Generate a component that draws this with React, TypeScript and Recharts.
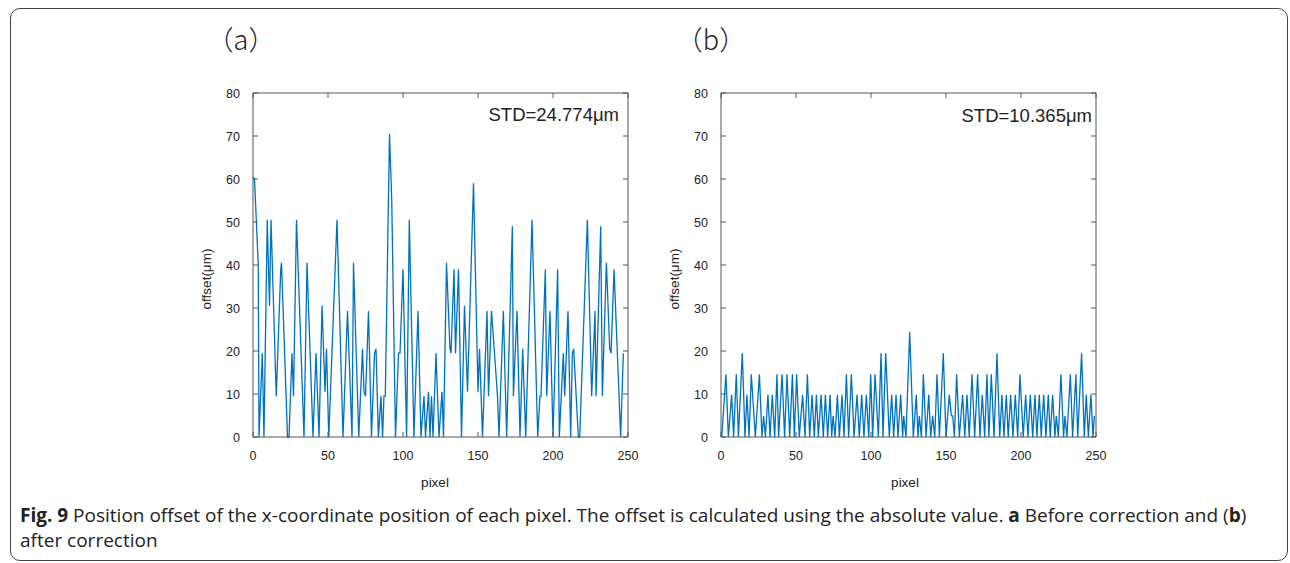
import { LineChart, Line, XAxis, YAxis, ReferenceLine } from 'recharts'

const pixelTicks = [0, 50, 100, 150, 200, 250]
const offsetTicks = [0, 10, 20, 30, 40, 50, 60, 70, 80]

// (a) before correction: turning points
const pixelA = [
  0, 1, 3.5, 4, 6.2, 7.3, 9.5, 11, 12, 15.5, 18.5, 19, 23, 24, 26, 27, 29, 34, 36, 40,
  42, 44, 46, 48, 49, 50.5, 56, 60, 63, 66, 67, 70.5, 73, 74, 75, 77, 79, 81, 82, 83.6,
  85.3, 86.4, 87.3, 88.2, 91, 92.5, 95, 97, 98, 100, 102.4, 104.2, 107.3, 110, 112, 114, 115, 117, 118, 119,
  120, 122, 124, 126, 127, 129, 131.3, 132, 134, 135, 137, 139, 141, 143, 147, 150, 151, 153, 156, 157,
  159, 163, 164, 166.9, 169.1, 172.9, 173.6, 176, 178, 179.8, 181.8, 186, 189.8, 191.3, 192, 194.9, 195.8, 198, 200, 203.1,
  204.2, 206.9, 207.8, 210, 211.8, 212.9, 213.8, 216.9, 217.8, 222.9, 225.8, 228, 228.7, 231.8, 232.9, 235.6, 237.8, 238.7, 240.7, 245.1,
  246.9,
]
const offsetA = [
  60.5, 60, 40, 0, 19.5, 0, 50.5, 30.5, 50.5, 9.5, 39, 40.5, 0, 0, 19.5, 9.5, 50.5, 0, 40.5, 0,
  19.5, 0, 30.5, 10.5, 20.5, 0, 50.5, 0, 29.3, 0, 40.5, 0, 20.5, 10.5, 9.5, 29.3, 0, 19.5, 20.5, 0,
  9.5, 0, 9.5, 9.5, 70.5, 55, 0, 19.5, 19.5, 39, 0, 50.5, 0, 29.3, 0, 9.5, 0, 10.5, 0, 9.5,
  0, 19.5, 0, 10.5, 0, 40.5, 20.5, 19.5, 39, 19.5, 39, 0, 30.5, 10.5, 59, 10.5, 20.5, 0, 29.3, 9.5,
  29.3, 9.5, 0, 29.3, 0, 49, 9.5, 29.3, 0, 20.5, 0, 50.5, 0, 9.5, 9.5, 39, 9.5, 29.3, 0, 39,
  0, 19.5, 9.5, 29.3, 0, 19.5, 20.5, 0, 0, 50.5, 9.5, 29.3, 9.5, 49, 9.5, 40.5, 20.5, 19.5, 39, 0,
  19.5,
]

// (b) after correction
const pixelB = [
  0.5, 3.3, 4.9, 7.1, 8.4, 10.2, 11.6, 14.2, 16, 17.3, 18.7, 20.2, 22.9, 25.6, 27.3, 28.4, 29.6, 31.3, 32.7, 34.2,
  35.8, 37.3, 38.4, 40.7, 42.4, 44, 45.8, 47.6, 48.9, 50.4, 52.2, 54.4, 56, 57.6, 59.1, 60.7, 62.2, 63.6, 64.9, 66.7,
  68.2, 69.6, 71.1, 72.7, 73.8, 74.7, 76, 77.6, 78.9, 80.7, 82, 83.6, 85.1, 86.9, 88.7, 90.7, 92.2, 93.8, 95.3, 96.9,
  98.5, 99.8, 101.1, 102.7, 104.9, 106.7, 108, 109.8, 112.2, 113.8, 115.1, 116.7, 118, 119.8, 121.1, 121.8, 123.3, 125.8, 128.2, 130.2,
  131.3, 132.2, 133.6, 134.9, 136.7, 138.5, 139.8, 141.1, 142.5, 144, 145.6, 148.2, 150, 152.2, 153.6, 154.5, 155.6, 157.1, 158.9, 161.1,
  162.5, 164, 165.5, 167.3, 169.1, 171.1, 172.6, 174.2, 175.8, 177.3, 178.6, 180.2, 182, 184, 185.8, 187.3, 188.6, 190.2, 191.5, 193.1,
  194.6, 196.2, 197.8, 199.3, 201.5, 203.1, 204.6, 206.2, 207.8, 209.3, 210.6, 212.2, 213.5, 215.1, 216.6, 218.2, 219.5, 221.1, 222.6, 223.5,
  224.9, 226.6, 228.4, 229.3, 230.6, 232.9, 234.4, 236.6, 237.8, 240.4, 242.2, 243.5, 244.9, 246.6, 248, 248.9,
]
const offsetB = [
  0, 14.6, 0, 9.8, 0, 14.6, 0, 19.5, 0, 9.8, 0, 14.6, 0, 14.6, 0, 4.9, 0, 9.8, 0, 9.8,
  0, 14.6, 0, 14.6, 0, 14.6, 0, 14.6, 0, 14.6, 0, 9.8, 0, 14.6, 0, 9.8, 0, 9.8, 0, 9.8,
  0, 9.8, 0, 9.8, 0, 4.9, 0, 9.8, 0, 9.8, 0, 14.6, 0, 14.6, 0, 9.8, 0, 9.8, 0, 9.8,
  0, 14.6, 0, 14.6, 0, 19.5, 0, 19.5, 0, 9.8, 0, 9.8, 0, 9.8, 0, 4.9, 0, 24.4, 0, 9.8,
  0, 4.9, 0, 14.6, 0, 9.8, 0, 4.9, 0, 14.6, 0, 19.5, 0, 9.8, 4.9, 4.9, 0, 14.6, 0, 9.8,
  0, 9.8, 0, 14.6, 0, 14.6, 0, 9.8, 0, 14.6, 0, 14.6, 0, 19.5, 0, 9.8, 0, 9.8, 0, 9.8,
  0, 9.8, 0, 14.6, 0, 9.8, 0, 9.8, 0, 9.8, 0, 9.8, 0, 9.8, 0, 9.8, 0, 9.8, 0, 4.9,
  0, 14.6, 0, 4.9, 0, 14.6, 0, 14.6, 0, 19.5, 0, 9.8, 0, 9.8, 0, 4.9,
]

const toRows = (xs: number[], ys: number[]) => xs.map((p, i) => ({ pixel: p, offset: ys[i] }))

const axisColor = '#555'
const tickColor = '#222'
const tickFontFamily = 'Liberation Sans, Arial, sans-serif'

// chart box, in chart coordinates
const W = 470
const H = 430
const M = { top: 13, right: 22, bottom: 23, left: 0 }
const X_AXIS_H = 50
const Y_AXIS_W = 73
const plotTop = M.top
const plotBottom = H - M.bottom - X_AXIS_H
const plotLeft = M.left + Y_AXIS_W
const plotRight = W - M.right
const TICK = 5
const X_MARGIN = 14
const Y_MARGIN = 13

// MATLAB-style inward ticks on both sides of the box
function BottomTick(props: any) {
  const { x, y, payload } = props
  return (
    <g>
      <line x1={x} x2={x} y1={plotBottom} y2={plotBottom - TICK} stroke={axisColor} />
      <line x1={x} x2={x} y1={plotTop} y2={plotTop + TICK} stroke={axisColor} />
      <text x={x} y={y + 9} textAnchor="middle" fill={tickColor} fontSize={12.5} fontFamily={tickFontFamily}>
        {payload.value}
      </text>
    </g>
  )
}

function LeftTick(props: any) {
  const { y, payload } = props
  return (
    <g>
      <line x1={plotLeft} x2={plotLeft + TICK} y1={y} y2={y} stroke={axisColor} />
      <line x1={plotRight} x2={plotRight - TICK} y1={y} y2={y} stroke={axisColor} />
      <text x={plotLeft - Y_MARGIN} y={y + 4.5} textAnchor="end" fill={tickColor} fontSize={12.5} fontFamily={tickFontFamily}>
        {payload.value}
      </text>
    </g>
  )
}

function Panel({ left, rows }: { left: number; rows: { pixel: number; offset: number }[] }) {
  return (
    <div style={{ position: 'absolute', left, top: 80 }}>
      <LineChart width={W} height={H} data={rows} margin={M}>
        <XAxis
          dataKey="pixel"
          type="number"
          domain={[0, 250]}
          ticks={pixelTicks}
          tickLine={false}
          tickSize={0}
          tickMargin={X_MARGIN}
          height={X_AXIS_H}
          stroke={axisColor}
          tick={BottomTick}
        />
        <YAxis
          type="number"
          domain={[0, 80]}
          ticks={offsetTicks}
          tickLine={false}
          tickSize={0}
          width={Y_AXIS_W}
          stroke={axisColor}
          tick={LeftTick}
        />
        <ReferenceLine y={80} stroke={axisColor} />
        <ReferenceLine x={250} stroke={axisColor} />
        <Line
          type="linear"
          dataKey="offset"
          stroke="#0072BD"
          strokeWidth={1.3}
          dot={false}
          isAnimationActive={false}
        />
      </LineChart>
    </div>
  )
}

const textStyle = { position: 'absolute' as const, color: '#222', fontFamily: 'Liberation Sans, Arial, sans-serif', whiteSpace: 'nowrap' as const }

export default function App() {
  return (
    <div style={{ position: 'absolute', left: 0, top: 0, width: 1290, height: 563, background: '#fff', overflow: 'hidden' }}>
      <div style={{ position: 'absolute', left: 10, top: 8, width: 1276, height: 551, border: '1px solid #444', borderRadius: 10 }} />

      <div style={{ ...textStyle, left: 241, top: 38, transform: 'translate(-50%, -50%)', fontSize: 27, fontFamily: '"Noto Sans CJK SC", sans-serif', fontWeight: 300 }}>（a）</div>
      <div style={{ ...textStyle, left: 711, top: 38, transform: 'translate(-50%, -50%)', fontSize: 27, fontFamily: '"Noto Sans CJK SC", sans-serif', fontWeight: 300 }}>（b）</div>

      <Panel left={180} rows={toRows(pixelA, offsetA)} />
      <Panel left={648} rows={toRows(pixelB, offsetB)} />

      <div style={{ ...textStyle, right: 1290 - 619, top: 115, transform: 'translateY(-50%)', fontSize: 18.5 }}>STD=24.774μm</div>
      <div style={{ ...textStyle, right: 1290 - 1092, top: 116, transform: 'translateY(-50%)', fontSize: 18.5 }}>STD=10.365μm</div>

      <div style={{ ...textStyle, left: 206, top: 279, transform: 'translate(-50%, -50%) rotate(-90deg)', fontSize: 13.5 }}>offset(μm)</div>
      <div style={{ ...textStyle, left: 674, top: 279, transform: 'translate(-50%, -50%) rotate(-90deg)', fontSize: 13.5 }}>offset(μm)</div>
      <div style={{ ...textStyle, left: 435, top: 482, transform: 'translate(-50%, -50%)', fontSize: 13.5 }}>pixel</div>
      <div style={{ ...textStyle, left: 905, top: 482, transform: 'translate(-50%, -50%)', fontSize: 13.5 }}>pixel</div>

      <div style={{ position: 'absolute', left: 20, top: 503, width: 1262, fontSize: 19, lineHeight: '25px', color: '#222', fontFamily: '"Open Sans", sans-serif', whiteSpace: 'nowrap' }}>
        <b>Fig. 9</b> Position offset of the x-coordinate position of each pixel. The offset is calculated using the absolute value. <b>a</b> Before correction and (<b>b</b>)
        <br />
        after correction
      </div>
    </div>
  )
}
